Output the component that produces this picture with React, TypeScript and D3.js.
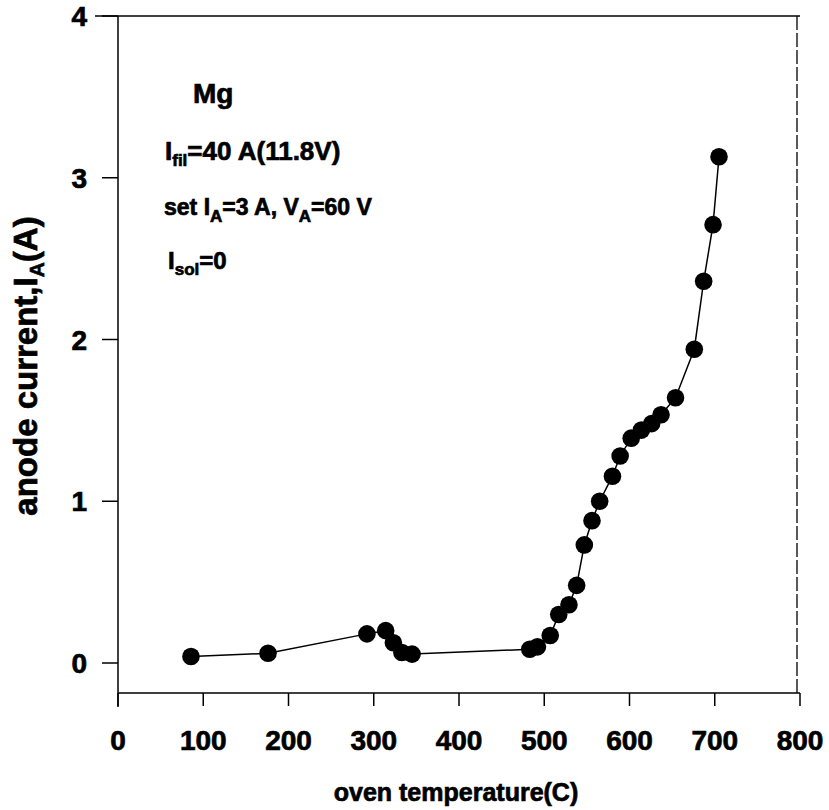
import * as d3 from "d3";

// oven temperature (C) and anode current (A)
const temps = [85.6, 176, 292, 314, 323, 333, 345, 483, 492, 507, 517, 529, 538, 547, 556, 565, 580, 589, 602, 614, 626, 637, 654, 676, 687, 698, 705];
const currents = [0.04, 0.06, 0.18, 0.2, 0.125, 0.065, 0.055, 0.085, 0.1, 0.17, 0.3, 0.36, 0.48, 0.73, 0.88, 1.0, 1.155, 1.28, 1.39, 1.44, 1.48, 1.535, 1.64, 1.94, 2.36, 2.71, 3.13];

const xTicks = [0, 100, 200, 300, 400, 500, 600, 700, 800];
const yTicks = [0, 1, 2, 3, 4];

const font = "'Liberation Sans', Arial, sans-serif";

export default function App() {
  const width = 829;
  const height = 810;

  const x = d3.scaleLinear().domain([0, 800]).range([118, 800]);
  const y = d3.scaleLinear().domain([0, 4]).range([663, 16]);
  const bottom = 693;

  const pts = temps.map((t, i) => [t, currents[i]] as [number, number]);
  const line = d3.line<[number, number]>()
    .x((d) => x(d[0]))
    .y((d) => y(d[1]));

  return (
    <svg width={width} height={height} style={{ position: "absolute", left: 0, top: 0, background: "#fff" }}>
      <rect width={width} height={height} fill="#fff" />
      {/* frame */}
      <g stroke="#000">
        <line x1={x(0) - 23} x2={x(800)} y1={y(4)} y2={y(4)} strokeWidth={1.5} />
        <line x1={x(800) - 3} x2={x(800) - 3} y1={y(4)} y2={bottom} strokeWidth={1.3} strokeDasharray="14 3" />
        <line x1={x(0)} x2={x(800)} y1={bottom} y2={bottom} strokeWidth={1.5} />
        <line x1={x(0)} x2={x(0)} y1={y(4)} y2={bottom + 14} strokeWidth={1.5} />
      </g>

      <g fontFamily={font} fontWeight="bold" fill="#000" stroke="#000" strokeWidth={0.7}>
        {/* y axis */}
        {yTicks.map((t) => (
          <g key={"y" + t}>
            <line x1={x(0) - 16} x2={x(0)} y1={y(t)} y2={y(t)} strokeWidth={1.5} />
            <text x={87} y={y(t) + 10} fontSize={28} textAnchor="end">{t}</text>
          </g>
        ))}

        {/* x axis */}
        {xTicks.map((t) => (
          <g key={"x" + t}>
            <line x1={x(t)} x2={x(t)} y1={bottom} y2={bottom + 13} strokeWidth={1.5} />
            <text x={x(t)} y={750} fontSize={28} textAnchor="middle">{t}</text>
          </g>
        ))}

        <text x={456} y={801} fontSize={25} textAnchor="middle">oven temperature(C)</text>
        <text transform={`translate(37, 366) rotate(-90)`} fontSize={33} textAnchor="middle">
          anode current,I<tspan fontSize={21} dy={7}>A</tspan><tspan dy={-7}>(A)</tspan>
        </text>

        {/* annotations */}
        <text x={193} y={103} fontSize={28}>Mg</text>
        <text x={165} y={160} fontSize={26}>
          I<tspan fontSize={17} dy={6}>fil</tspan><tspan dy={-6}>=40 A(11.8V)</tspan>
        </text>
        <text x={164} y={215} fontSize={23}>
          set I<tspan fontSize={17} dy={7}>A</tspan><tspan dy={-7}>=3 A, V</tspan><tspan fontSize={17} dy={7}>A</tspan><tspan dy={-7}>=60 V</tspan>
        </text>
        <text x={168} y={269} fontSize={24}>
          I<tspan fontSize={17} dy={6}>sol</tspan><tspan dy={-6}>=0</tspan>
        </text>
      </g>

      {/* data */}
      <path d={line(pts) ?? ""} fill="none" stroke="#000" strokeWidth={1.5} />
      {pts.map((d, i) => (
        <circle key={i} cx={x(d[0])} cy={y(d[1])} r={8.8} fill="#000" />
      ))}
    </svg>
  );
}
